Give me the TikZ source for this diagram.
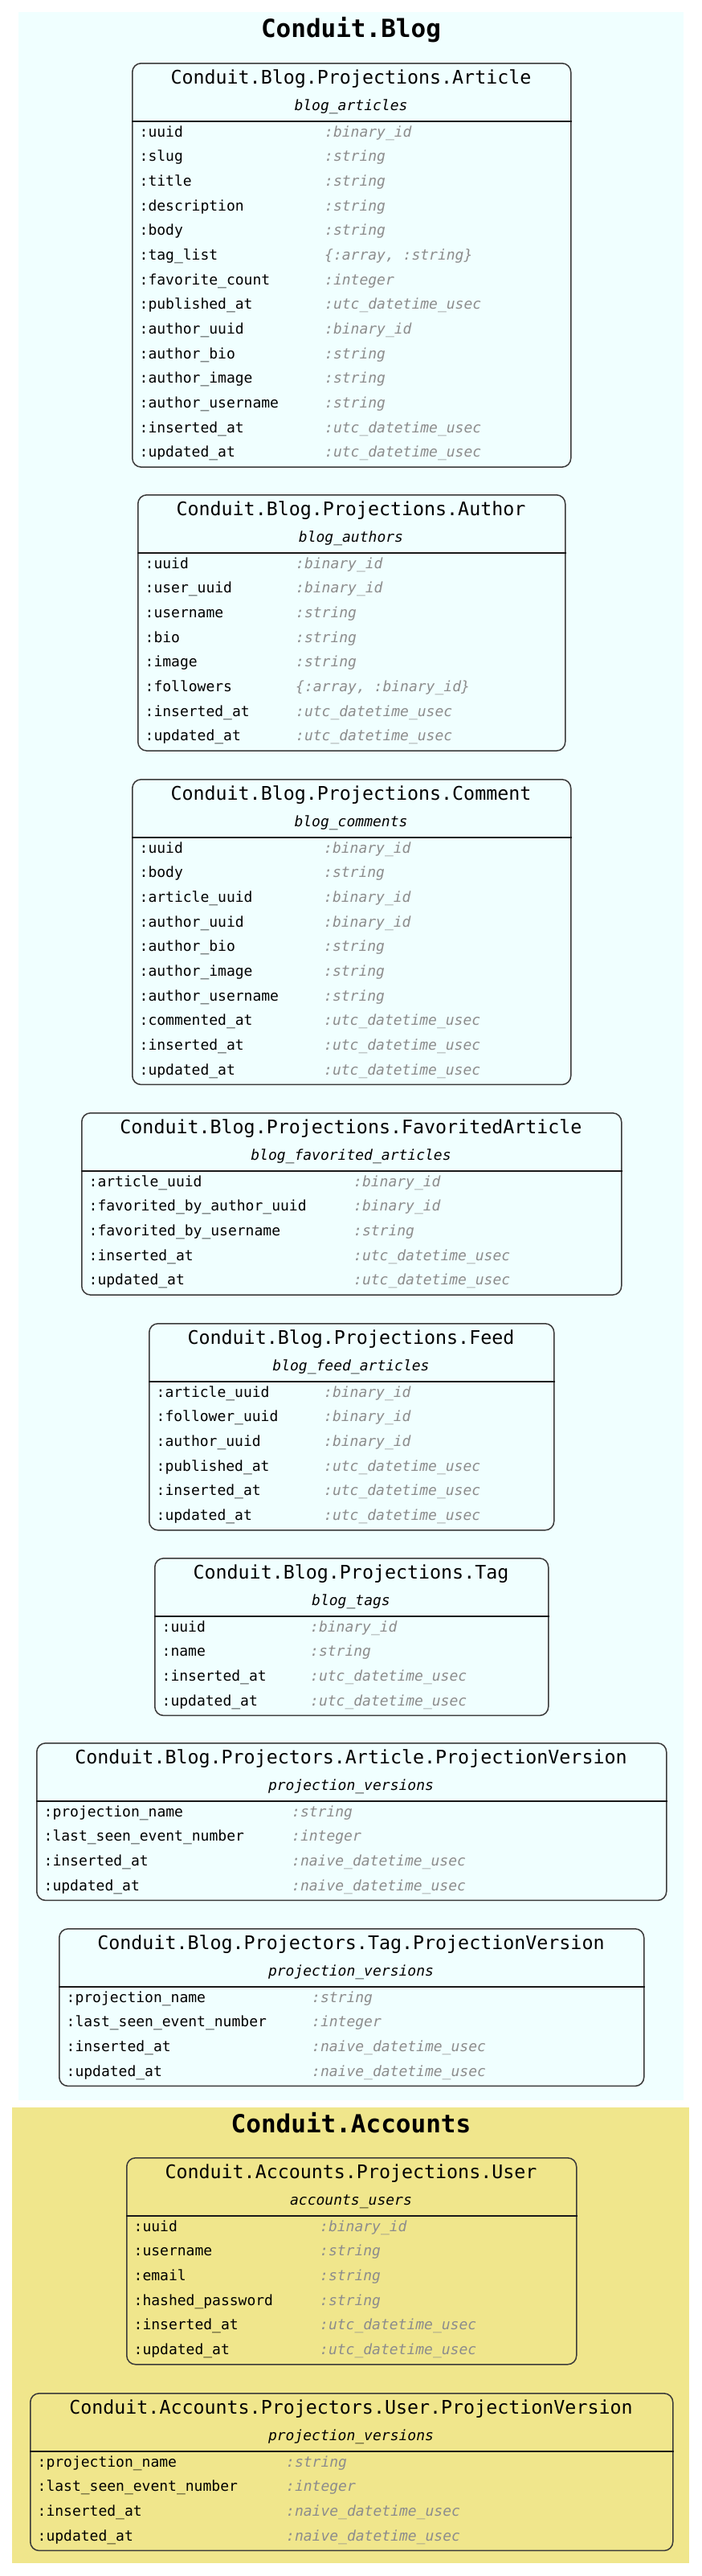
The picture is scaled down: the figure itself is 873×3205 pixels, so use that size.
\documentclass[tikz,border=0pt]{standalone}
\usepackage{fontspec}
\setmonofont{DejaVu Sans Mono}
\definecolor{typegray}{HTML}{8C8C8C}
\definecolor{blogbg}{HTML}{F0FFFF}
\definecolor{accbg}{HTML}{F0E68C}
\definecolor{boxline}{HTML}{3A3A3A}
\newcommand{\tbox}[8]{%
  \def\TBid{#1}\def\TBleft{#2}\def\TBtop{#4}\def\TBtype{#6}%
  \node[tbl, minimum width={(#3)-(#2)}, minimum height={73+(#5)*30.67}] (#1) at (#2,-#4) {};
  \node[ttl] (#1-title) at ({(#2+#3)/2},{-(#4+26)}) {#7};
  \node[subttl] (#1-sub) at ({(#2+#3)/2},{-(#4+59)}) {#8};
  \draw[hdr] ([yshift=-73pt]#1.north west) -- ([yshift=-73pt]#1.north east);
}
\newcommand{\trow}[3]{%
  \node[fname] (\TBid-n#1) at ({\TBleft+9.5},{-(\TBtop+92+(#1)*30.67)}) {#2};
  \node[ftype] (\TBid-t#1) at ({\TBtype},{-(\TBtop+92+(#1)*30.67)}) {#3};
}
\begin{document}
\catcode`\_=12
\begin{tikzpicture}[x=1pt,y=1pt,
  tbl/.style={draw=boxline, line width=1.5pt, rounded corners=11pt, inner sep=0pt, anchor=north west},
  ttl/.style={font=\ttfamily\fontsize{23.3}{26}\selectfont, anchor=base, inner sep=0pt},
  subttl/.style={font=\ttfamily\itshape\fontsize{18}{20}\selectfont, anchor=base, inner sep=0pt},
  fname/.style={font=\ttfamily\fontsize{18}{20}\selectfont, anchor=base west, inner sep=0pt},
  ftype/.style={font=\ttfamily\itshape\fontsize{18}{20}\selectfont, text=typegray, anchor=base west, inner sep=0pt},
  ctitle/.style={font=\ttfamily\bfseries\fontsize{31}{34}\selectfont, anchor=base, inner sep=0pt},
  hdr/.style={line width=1.5pt, draw=black!90},
  cluster/.style={draw=none, inner sep=0pt}]
\useasboundingbox (0,0) rectangle (873,-3205);
\fill[white] (0,0) rectangle (873,-3205);
% clusters
\fill[blogbg] (23,-15) rectangle (851,-2613);
\fill[accbg] (15,-2622) rectangle (858,-3189);
\node[ctitle] (blogtitle) at (437,-46) {Conduit.Blog};
\node[ctitle] (acctitle) at (437,-2653) {Conduit.Accounts};
% Article
\tbox{art}{164}{710}{78}{14}{404}{Conduit.Blog.Projections.Article}{blog_articles}
\trow{0}{:uuid}{:binary_id}
\trow{1}{:slug}{:string}
\trow{2}{:title}{:string}
\trow{3}{:description}{:string}
\trow{4}{:body}{:string}
\trow{5}{:tag_list}{\{:array, :string\}}
\trow{6}{:favorite_count}{:integer}
\trow{7}{:published_at}{:utc_datetime_usec}
\trow{8}{:author_uuid}{:binary_id}
\trow{9}{:author_bio}{:string}
\trow{10}{:author_image}{:string}
\trow{11}{:author_username}{:string}
\trow{12}{:inserted_at}{:utc_datetime_usec}
\trow{13}{:updated_at}{:utc_datetime_usec}
% Author
\tbox{auth}{171}{703}{615}{8}{368}{Conduit.Blog.Projections.Author}{blog_authors}
\trow{0}{:uuid}{:binary_id}
\trow{1}{:user_uuid}{:binary_id}
\trow{2}{:username}{:string}
\trow{3}{:bio}{:string}
\trow{4}{:image}{:string}
\trow{5}{:followers}{\{:array, :binary_id\}}
\trow{6}{:inserted_at}{:utc_datetime_usec}
\trow{7}{:updated_at}{:utc_datetime_usec}
% Comment
\tbox{com}{164}{710}{969}{10}{403}{Conduit.Blog.Projections.Comment}{blog_comments}
\trow{0}{:uuid}{:binary_id}
\trow{1}{:body}{:string}
\trow{2}{:article_uuid}{:binary_id}
\trow{3}{:author_uuid}{:binary_id}
\trow{4}{:author_bio}{:string}
\trow{5}{:author_image}{:string}
\trow{6}{:author_username}{:string}
\trow{7}{:commented_at}{:utc_datetime_usec}
\trow{8}{:inserted_at}{:utc_datetime_usec}
\trow{9}{:updated_at}{:utc_datetime_usec}
% FavoritedArticle
\tbox{fav}{101}{773}{1384}{5}{440}{Conduit.Blog.Projections.FavoritedArticle}{blog_favorited_articles}
\trow{0}{:article_uuid}{:binary_id}
\trow{1}{:favorited_by_author_uuid}{:binary_id}
\trow{2}{:favorited_by_username}{:string}
\trow{3}{:inserted_at}{:utc_datetime_usec}
\trow{4}{:updated_at}{:utc_datetime_usec}
% Feed
\tbox{feed}{185}{689}{1646}{6}{403}{Conduit.Blog.Projections.Feed}{blog_feed_articles}
\trow{0}{:article_uuid}{:binary_id}
\trow{1}{:follower_uuid}{:binary_id}
\trow{2}{:author_uuid}{:binary_id}
\trow{3}{:published_at}{:utc_datetime_usec}
\trow{4}{:inserted_at}{:utc_datetime_usec}
\trow{5}{:updated_at}{:utc_datetime_usec}
% Tag
\tbox{tag}{192}{682}{1938}{4}{386}{Conduit.Blog.Projections.Tag}{blog_tags}
\trow{0}{:uuid}{:binary_id}
\trow{1}{:name}{:string}
\trow{2}{:inserted_at}{:utc_datetime_usec}
\trow{3}{:updated_at}{:utc_datetime_usec}
% Article ProjectionVersion
\tbox{apv}{45}{829}{2168}{4}{363}{Conduit.Blog.Projectors.Article.ProjectionVersion}{projection_versions}
\trow{0}{:projection_name}{:string}
\trow{1}{:last_seen_event_number}{:integer}
\trow{2}{:inserted_at}{:naive_datetime_usec}
\trow{3}{:updated_at}{:naive_datetime_usec}
% Tag ProjectionVersion
\tbox{tpv}{73}{801}{2399}{4}{388}{Conduit.Blog.Projectors.Tag.ProjectionVersion}{projection_versions}
\trow{0}{:projection_name}{:string}
\trow{1}{:last_seen_event_number}{:integer}
\trow{2}{:inserted_at}{:naive_datetime_usec}
\trow{3}{:updated_at}{:naive_datetime_usec}
% User
\tbox{user}{157}{717}{2684}{6}{398}{Conduit.Accounts.Projections.User}{accounts_users}
\trow{0}{:uuid}{:binary_id}
\trow{1}{:username}{:string}
\trow{2}{:email}{:string}
\trow{3}{:hashed_password}{:string}
\trow{4}{:inserted_at}{:utc_datetime_usec}
\trow{5}{:updated_at}{:utc_datetime_usec}
% User ProjectionVersion
\tbox{upv}{37}{837}{2977}{4}{356}{Conduit.Accounts.Projectors.User.ProjectionVersion}{projection_versions}
\trow{0}{:projection_name}{:string}
\trow{1}{:last_seen_event_number}{:integer}
\trow{2}{:inserted_at}{:naive_datetime_usec}
\trow{3}{:updated_at}{:naive_datetime_usec}
\end{tikzpicture}
\end{document}
